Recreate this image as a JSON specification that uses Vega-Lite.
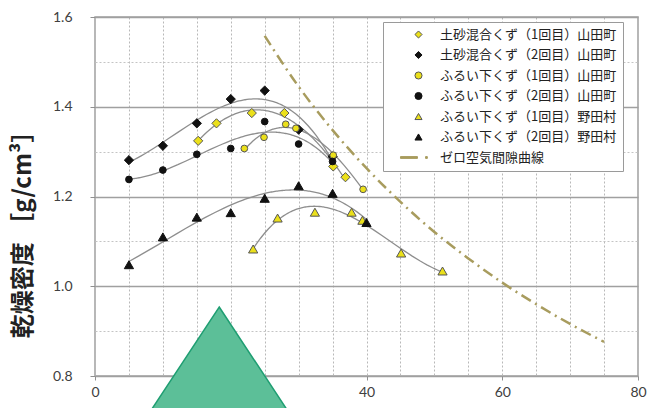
{
  "$schema": "https://vega.github.io/schema/vega-lite/v6.json",
  "width": 543,
  "height": 359,
  "autosize": {"type": "none"},
  "padding": {"left": 95, "top": 17, "right": 15, "bottom": 32},
  "config": {
    "view": {"stroke": "#a0a0a0", "strokeWidth": 1.5},
    "font": "Lato",
    "legend": {
      "orient": "none",
      "legendX": 288,
      "legendY": 5,
      "title": null,
      "fillColor": "white",
      "strokeColor": "#9a9a9a",
      "padding": 6,
      "labelFont": "Noto Sans CJK JP",
      "labelFontSize": 13,
      "labelColor": "#222222",
      "labelLimit": 300,
      "symbolSize": 50,
      "symbolOffset": 23,
      "labelOffset": 15,
      "rowPadding": 6.5,
      "symbolStrokeWidth": 1
    }
  },
  "datasets": {
    "pts": [
      {"series": "土砂混合くず（1回目）山田町", "water": 15.2, "density": 1.324},
      {"series": "土砂混合くず（1回目）山田町", "water": 17.9, "density": 1.363},
      {"series": "土砂混合くず（1回目）山田町", "water": 23.1, "density": 1.386},
      {"series": "土砂混合くず（1回目）山田町", "water": 27.9, "density": 1.386},
      {"series": "土砂混合くず（1回目）山田町", "water": 35.1, "density": 1.267},
      {"series": "土砂混合くず（1回目）山田町", "water": 36.9, "density": 1.243},
      {"series": "土砂混合くず（2回目）山田町", "water": 5, "density": 1.281},
      {"series": "土砂混合くず（2回目）山田町", "water": 10, "density": 1.313},
      {"series": "土砂混合くず（2回目）山田町", "water": 15, "density": 1.363},
      {"series": "土砂混合くず（2回目）山田町", "water": 20, "density": 1.417},
      {"series": "土砂混合くず（2回目）山田町", "water": 25, "density": 1.436},
      {"series": "土砂混合くず（2回目）山田町", "water": 30, "density": 1.349},
      {"series": "土砂混合くず（2回目）山田町", "water": 35, "density": 1.289},
      {"series": "ふるい下くず（1回目）山田町", "water": 22.0, "density": 1.307},
      {"series": "ふるい下くず（1回目）山田町", "water": 24.9, "density": 1.332},
      {"series": "ふるい下くず（1回目）山田町", "water": 28.1, "density": 1.361},
      {"series": "ふるい下くず（1回目）山田町", "water": 29.6, "density": 1.352},
      {"series": "ふるい下くず（1回目）山田町", "water": 35.1, "density": 1.292},
      {"series": "ふるい下くず（1回目）山田町", "water": 39.5, "density": 1.216},
      {"series": "ふるい下くず（2回目）山田町", "water": 5, "density": 1.238},
      {"series": "ふるい下くず（2回目）山田町", "water": 10, "density": 1.259},
      {"series": "ふるい下くず（2回目）山田町", "water": 15, "density": 1.294},
      {"series": "ふるい下くず（2回目）山田町", "water": 20, "density": 1.307},
      {"series": "ふるい下くず（2回目）山田町", "water": 25, "density": 1.367},
      {"series": "ふるい下くず（2回目）山田町", "water": 30, "density": 1.317},
      {"series": "ふるい下くず（2回目）山田町", "water": 35, "density": 1.278},
      {"series": "ふるい下くず（1回目）野田村", "water": 23.3, "density": 1.083},
      {"series": "ふるい下くず（1回目）野田村", "water": 26.9, "density": 1.152},
      {"series": "ふるい下くず（1回目）野田村", "water": 32.4, "density": 1.165},
      {"series": "ふるい下くず（1回目）野田村", "water": 37.8, "density": 1.165},
      {"series": "ふるい下くず（1回目）野田村", "water": 39.4, "density": 1.147},
      {"series": "ふるい下くず（1回目）野田村", "water": 45.1, "density": 1.074},
      {"series": "ふるい下くず（1回目）野田村", "water": 51.2, "density": 1.034},
      {"series": "ふるい下くず（2回目）野田村", "water": 5, "density": 1.048},
      {"series": "ふるい下くず（2回目）野田村", "water": 10, "density": 1.110},
      {"series": "ふるい下くず（2回目）野田村", "water": 15, "density": 1.154},
      {"series": "ふるい下くず（2回目）野田村", "water": 20, "density": 1.164},
      {"series": "ふるい下くず（2回目）野田村", "water": 25, "density": 1.196},
      {"series": "ふるい下くず（2回目）野田村", "water": 30, "density": 1.224},
      {"series": "ふるい下くず（2回目）野田村", "water": 35, "density": 1.207},
      {"series": "ふるい下くず（2回目）野田村", "water": 40, "density": 1.142}
    ],
    "zav": [
      {"water": 25, "density": 1.558},
      {"water": 30, "density": 1.445},
      {"water": 35, "density": 1.348},
      {"water": 40, "density": 1.263},
      {"water": 45, "density": 1.188},
      {"water": 50, "density": 1.121},
      {"water": 55, "density": 1.062},
      {"water": 60, "density": 1.008},
      {"water": 65, "density": 0.960},
      {"water": 70, "density": 0.916},
      {"water": 75, "density": 0.876}
    ],
    "tri": [
      {"water": 18.3, "density": 0.82}
    ]
  },
  "encoding": {
    "x": {
      "field": "water",
      "type": "quantitative",
      "scale": {"domain": [0, 80], "nice": false, "zero": false},
      "axis": {
        "title": null,
        "values": [0, 5, 10, 15, 20, 25, 30, 35, 40, 45, 50, 55, 60, 65, 70, 75, 80],
        "labelExpr": "datum.value % 20 === 0 ? datum.label : ''",
        "labelFlush": false,
        "labelFont": "Lato",
        "labelFontSize": 14,
        "labelColor": "#404040",
        "labelPadding": 5,
        "domain": false,
        "tickSize": 4,
        "tickColor": "#909090",
        "tickOpacity": {"condition": {"test": "datum.value % 20 === 0", "value": 1}, "value": 0},
        "grid": true,
        "gridColor": "#b8b8b8",
        "gridDash": [2, 2],
        "gridWidth": 1
      }
    },
    "y": {
      "field": "density",
      "type": "quantitative",
      "scale": {"domain": [0.8, 1.6], "nice": false, "zero": false},
      "axis": {
        "title": "乾燥密度 ［g/cm³］",
        "titleFont": "Noto Sans CJK JP",
        "titleFontSize": 24,
        "titleFontWeight": "bold",
        "titleColor": "#222222",
        "titleAngle": -90,
        "titleX": -72,
        "titleY": 211,
        "titleAlign": "center",
        "titleBaseline": "middle",
        "values": [0.8, 0.9, 1.0, 1.1, 1.2, 1.3, 1.4, 1.5, 1.6],
        "labelExpr": "round(datum.value * 10) % 2 === 0 ? format(datum.value, '.1f') : ''",
        "labelFont": "Lato",
        "labelFontSize": 14,
        "labelColor": "#404040",
        "labelPadding": 18,
        "domain": false,
        "tickSize": 5,
        "tickColor": "#909090",
        "tickOpacity": {"condition": {"test": "round(datum.value * 10) % 2 === 0", "value": 1}, "value": 0},
        "grid": true,
        "gridColor": {"condition": {"test": "round(datum.value * 10) % 2 === 0", "value": "#a0a0a0"}, "value": "#c4c4c4"},
        "gridDash": {"condition": {"test": "round(datum.value * 10) % 2 === 0", "value": []}, "value": [2, 2]},
        "gridWidth": {"condition": {"test": "round(datum.value * 10) % 2 === 0", "value": 1.5}, "value": 1}
      }
    }
  },
  "layer": [
    {
      "data": {"name": "pts"},
      "transform": [
        {"regression": "density", "on": "water", "groupby": ["series"], "method": "poly", "order": 3}
      ],
      "mark": {"type": "line", "stroke": "#8e8e8e", "strokeWidth": 1.3},
      "encoding": {"detail": {"field": "series", "type": "nominal"}}
    },
    {
      "data": {"name": "zav"},
      "mark": {"type": "line", "stroke": "#a89c5e", "strokeWidth": 2.5, "strokeDash": [11, 5, 2, 5], "interpolate": "monotone"},
      "encoding": {}
    },
    {
      "data": {"name": "pts"},
      "mark": {"type": "point", "filled": true, "opacity": 1, "strokeWidth": 1},
      "encoding": {
        "shape": {
          "field": "series",
          "type": "nominal",
          "scale": {
            "domain": ["土砂混合くず（1回目）山田町", "土砂混合くず（2回目）山田町", "ふるい下くず（1回目）山田町", "ふるい下くず（2回目）山田町", "ふるい下くず（1回目）野田村", "ふるい下くず（2回目）野田村", "ゼロ空気間隙曲線"],
            "range": ["diamond", "diamond", "circle", "circle", "triangle-up", "triangle-up", "M-5.1,-0.25L-0.3,-0.25L-0.3,0.25L-5.1,0.25ZM2,-0.25L2.5,-0.25L2.5,0.25L2,0.25Z"]
          },
          "legend": {"labelExpr": "datum.label + '　'"}
        },
        "fill": {
          "field": "series",
          "type": "nominal",
          "scale": {
            "domain": ["土砂混合くず（1回目）山田町", "土砂混合くず（2回目）山田町", "ふるい下くず（1回目）山田町", "ふるい下くず（2回目）山田町", "ふるい下くず（1回目）野田村", "ふるい下くず（2回目）野田村", "ゼロ空気間隙曲線"],
            "range": ["#ebe01a", "#111111", "#ebe01a", "#111111", "#ebe01a", "#111111", "#a89c5e"]
          },
          "legend": {"labelExpr": "datum.label + '　'"}
        },
        "stroke": {
          "field": "series",
          "type": "nominal",
          "scale": {
            "domain": ["土砂混合くず（1回目）山田町", "土砂混合くず（2回目）山田町", "ふるい下くず（1回目）山田町", "ふるい下くず（2回目）山田町", "ふるい下くず（1回目）野田村", "ふるい下くず（2回目）野田村", "ゼロ空気間隙曲線"],
            "range": ["#555555", "#111111", "#555555", "#111111", "#555555", "#111111", "#a89c5e"]
          },
          "legend": {"labelExpr": "datum.label + '　'"}
        },
        "size": {
          "condition": {"test": "datum.series === 'ふるい下くず（1回目）山田町' || datum.series === 'ふるい下くず（2回目）山田町'", "value": 45},
          "value": 85
        }
      }
    },
    {
      "data": {"name": "tri"},
      "mark": {"type": "point", "shape": "M0,-1L1.32,1L-1.32,1Z", "size": 14400, "filled": true, "fill": "#5cbf98", "stroke": "#1f9e72", "strokeWidth": 1.5, "opacity": 1, "clip": false}
    }
  ]
}
